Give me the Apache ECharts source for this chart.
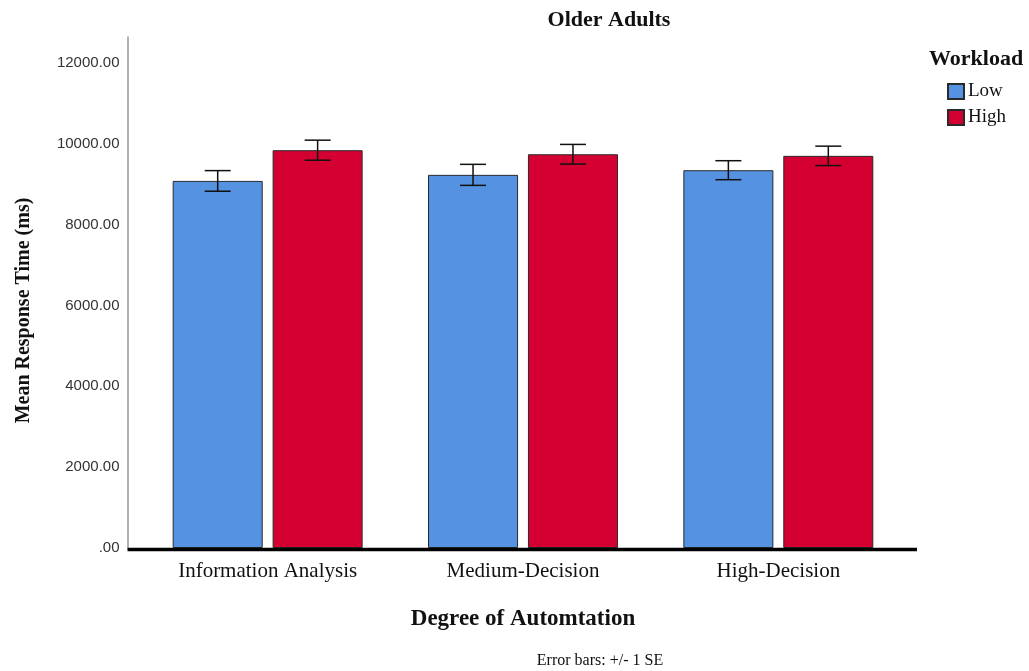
<!DOCTYPE html>
<html>
<head>
<meta charset="utf-8">
<title>Older Adults</title>
<script src="https://cdn.jsdelivr.net/npm/echarts@6/dist/echarts.min.js"></script>
<style>
  html, body { margin: 0; padding: 0; background: #fff; }
  #chart { width: 1029px; height: 671px; }
</style>
</head>
<body>
<div id="chart"></div>
<script>
// Mean response time (ms) by degree of automation and workload, older adults
const categories = ['Information Analysis', 'Medium-Decision', 'High-Decision'];
const seriesNames = ['Low', 'High'];
const lowMeans = [9080, 9230, 9345];
const highMeans = [9840, 9740, 9700];
const lowSE = [255, 260, 235];
const highSE = [248, 243, 240];
const yTicks = [0, 2000, 4000, 6000, 8000, 10000, 12000];

const SERIF = '"Liberation Serif", "DejaVu Serif", serif';
const SANS = '"Liberation Sans", Arial, sans-serif';
const colors = ['#5592E2', '#D50032'];

const GRID = { left: 140, right: 123, top: 37, bottom: 123 };
const Y_MAX = 12640;
const Y_OFFSET = 12.5;
const CAT_GAP = 0.256;   // share of a category left empty
const BAR_GAP = 0.11;    // gap between the two bars, as share of a bar's width

function errorBarData(means, se) {
  return means.map((m, i) => [i, m - se[i], m + se[i]]);
}

// Error bar drawn at the centre of bar `seriesIdx` within each category
function makeErrorRenderer(seriesIdx) {
  return function (params, api) {
    const cat = api.value(0);
    const lo = api.coord([cat, api.value(1)]);
    const hi = api.coord([cat, api.value(2)]);
    const catW = api.size([1, 0])[0];
    const bw = catW * (1 - CAT_GAP) / (2 + BAR_GAP);
    const shift = (bw + bw * BAR_GAP) / 2;
    const x = lo[0] + (seriesIdx === 0 ? -shift : shift);
    const cap = 13;
    const style = { stroke: '#111', lineWidth: 1.5 };
    return {
      type: 'group',
      children: [
        { type: 'line', shape: { x1: x, y1: hi[1], x2: x, y2: lo[1] }, style },
        { type: 'line', shape: { x1: x - cap, y1: hi[1], x2: x + cap, y2: hi[1] }, style },
        { type: 'line', shape: { x1: x - cap, y1: lo[1], x2: x + cap, y2: lo[1] }, style }
      ]
    };
  };
}

const chart = echarts.init(document.getElementById('chart'), null, { renderer: 'canvas' });

chart.setOption({
  animation: false,
  backgroundColor: '#fff',
  title: [
    {
      text: 'Older Adults', left: 609, top: 9, textAlign: 'center', padding: 0,
      textStyle: { fontFamily: SERIF, fontWeight: 'bold', fontSize: 22, color: '#111' }
    },
    {
      text: 'Workload', left: 929, top: 48, padding: 0,
      textStyle: { fontFamily: SERIF, fontWeight: 'bold', fontSize: 22, color: '#111' }
    },
    {
      text: 'Error bars: +/- 1 SE', left: 600, top: 653, textAlign: 'center', padding: 0,
      textStyle: { fontFamily: SERIF, fontWeight: 'normal', fontSize: 16, color: '#111' }
    }
  ],
  legend: {
    data: seriesNames,
    orient: 'vertical',
    left: 947, top: 82, padding: 0,
    itemWidth: 16, itemHeight: 15, itemGap: 7,
    icon: 'rect',
    textStyle: { fontFamily: SERIF, fontSize: 19, color: '#111', lineHeight: 15, padding: [2, 0, 0, -1] }
  },
  grid: GRID,
  xAxis: {
    type: 'category',
    data: categories,
    name: 'Degree of Automtation',
    nameLocation: 'middle',
    nameGap: 60,
    nameTextStyle: { fontFamily: SERIF, fontWeight: 'bold', fontSize: 23, color: '#111' },
    axisLine: { show: false },
    axisTick: { show: false },
    axisLabel: { fontFamily: SERIF, fontSize: 21, color: '#111', margin: 13 }
  },
  yAxis: {
    type: 'value',
    min: 0, max: Y_MAX, interval: 2000,
    offset: Y_OFFSET,
    name: 'Mean Response Time (ms)',
    nameLocation: 'middle',
    nameGap: 94,
    nameTextStyle: { fontFamily: SERIF, fontWeight: 'bold', fontSize: 20, color: '#111', padding: [0, 36, 0, 0] },
    axisLine: { show: true, lineStyle: { color: '#999', width: 1.5 } },
    axisTick: { show: false },
    splitLine: { show: false },
    axisLabel: {
      showMaxLabel: false,
      fontFamily: SANS, fontSize: 15, color: '#333', margin: 8,
      formatter: v => yTicks.includes(v) ? (v === 0 ? '.00' : v.toFixed(2)) : ''
    }
  },
  series: [
    {
      name: 'Low', type: 'bar', data: lowMeans,
      barCategoryGap: (CAT_GAP * 100) + '%', barGap: (BAR_GAP * 100) + '%',
      itemStyle: { color: colors[0], borderColor: '#2a2a2a', borderWidth: 1 }
    },
    {
      name: 'High', type: 'bar', data: highMeans,
      barCategoryGap: (CAT_GAP * 100) + '%', barGap: (BAR_GAP * 100) + '%',
      itemStyle: { color: colors[1], borderColor: '#2a2a2a', borderWidth: 1 }
    },
    {
      name: 'Low SE', type: 'custom', renderItem: makeErrorRenderer(0),
      data: errorBarData(lowMeans, lowSE), z: 10, encode: { x: 0, y: [1, 2] }
    },
    {
      name: 'High SE', type: 'custom', renderItem: makeErrorRenderer(1),
      data: errorBarData(highMeans, highSE), z: 10, encode: { x: 0, y: [1, 2] }
    }
  ]
});

// Heavy baseline running from the value axis to just past the plot's right edge
const y0 = chart.convertToPixel({ yAxisIndex: 0 }, 0);
const xLeft = GRID.left - Y_OFFSET;
const xRight = 1029 - GRID.right + 11;
chart.setOption({
  graphic: [{
    type: 'line', z: 20,
    shape: { x1: xLeft, y1: y0 + 1.5, x2: xRight, y2: y0 + 1.5 },
    style: { stroke: '#000', lineWidth: 3.5 }
  }]
});
</script>
</body>
</html>
